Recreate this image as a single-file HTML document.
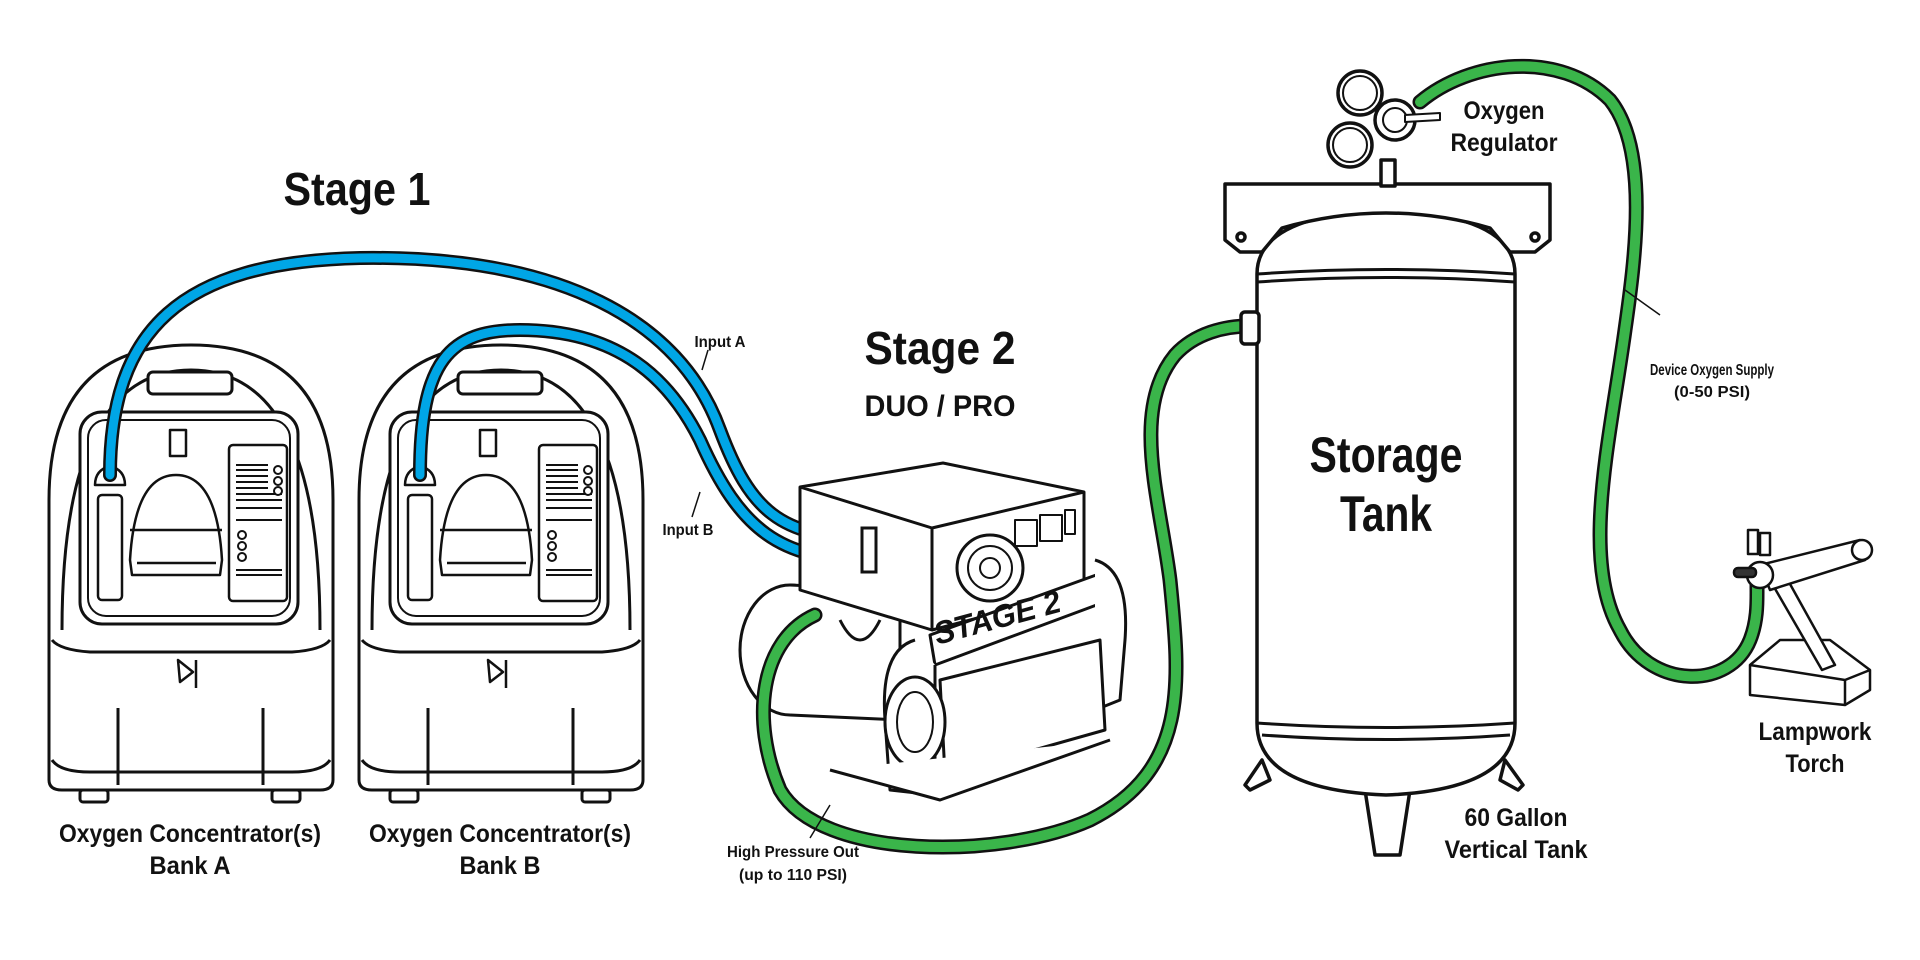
<!DOCTYPE html>
<html><head><meta charset="utf-8"><style>
html,body{margin:0;padding:0;background:#fff;}
svg{display:block}
text{font-family:"Liberation Sans Narrow","Liberation Sans",sans-serif;font-weight:bold;fill:#111;text-anchor:middle}
</style></head><body>
<svg width="1920" height="960" viewBox="0 0 1920 960" xmlns="http://www.w3.org/2000/svg">
<defs>
<g id="conc" fill="#fff" stroke="#111" stroke-width="3" stroke-linejoin="round">
  <path d="M49 780 L49 500 Q49 345 191 345 Q333 345 333 500 L333 780 Q333 790 320 790 L62 790 Q49 790 49 780Z"/>
  <path d="M62 630 Q62 370 191 370 Q320 370 320 630" fill="none"/>
  <rect x="148" y="372" width="84" height="22" rx="5"/>
  <rect x="80" y="412" width="218" height="212" rx="22"/>
  <rect x="88" y="420" width="202" height="196" rx="18" fill="none" stroke-width="2"/>
  <path d="M52 640 Q60 650 90 652 L292 652 Q322 650 330 640" fill="none"/>
  <rect x="170" y="430" width="16" height="26" stroke-width="2.5"/>
  <path d="M130 560 Q135 475 176 475 Q217 475 222 560 L220 575 L132 575Z" stroke-width="2.5"/>
  <path d="M130 530 L222 530 M137 563 L216 563" stroke-width="2.5"/>
  <rect x="98" y="495" width="24" height="105" rx="4" stroke-width="2.5"/>
  <rect x="229" y="445" width="58" height="156" rx="4" stroke-width="2.5"/>
  <path d="M236 465 L268 465 M236 470 L268 470 M236 476 L268 476 M236 482 L268 482 M236 488 L268 488 M236 494 L282 494 M236 500 L282 500 M236 508 L282 508 M236 520 L282 520 M236 570 L282 570 M236 575 L282 575" stroke-width="2"/>
  <circle cx="278" cy="470" r="4" stroke-width="2"/><circle cx="278" cy="481" r="4" stroke-width="2"/><circle cx="278" cy="491" r="4" stroke-width="2"/>
  <circle cx="242" cy="535" r="4" stroke-width="2"/><circle cx="242" cy="546" r="4" stroke-width="2"/><circle cx="242" cy="557" r="4" stroke-width="2"/>
  <path d="M95 485 Q95 470 110 466 Q125 470 125 485Z" stroke-width="2.5"/>
  <path d="M178 660 L193 672 L180 682 Z M196 660 L196 688" stroke-width="2.5" fill="none"/>
  <path d="M52 760 Q60 772 90 772 L292 772 Q322 772 330 760" fill="none"/>
  <path d="M118 708 L118 785 M263 708 L263 785"/>
  <rect x="80" y="790" width="28" height="12" rx="3"/><rect x="272" y="790" width="28" height="12" rx="3"/>
</g>
</defs>

<use href="#conc"/>
<use href="#conc" x="310"/>

<g fill="none" stroke-linecap="round">
  <path d="M110 475 C110 330 180 262 360 258 C560 255 680 320 720 430 C750 510 780 538 868 538" stroke="#111" stroke-width="14"/>
  <path d="M110 475 C110 330 180 262 360 258 C560 255 680 320 720 430 C750 510 780 538 868 538" stroke="#00a6e6" stroke-width="9"/>
  <path d="M420 475 C420 360 450 330 520 330 C620 330 670 380 700 440 C740 530 780 560 868 560" stroke="#111" stroke-width="14"/>
  <path d="M420 475 C420 360 450 330 520 330 C620 330 670 380 700 440 C740 530 780 560 868 560" stroke="#00a6e6" stroke-width="9"/>
</g>

<g fill="#fff" stroke="#111" stroke-width="3" stroke-linejoin="round">
  <ellipse cx="790" cy="650" rx="50" ry="65"/>
  <path d="M790 585 L900 590 L900 720 L790 715"/>
  <path d="M800 487 L943 463 L1084 492 L1084 590 L932 630 L800 590Z"/>
  <path d="M800 487 L932 528 L1084 492 M932 528 L932 630"/>
  <circle cx="990" cy="568" r="33"/><circle cx="990" cy="568" r="22" stroke-width="2"/><circle cx="990" cy="568" r="10" stroke-width="2"/>
  <rect x="1015" y="520" width="22" height="26" stroke-width="2"/><rect x="1040" y="515" width="22" height="26" stroke-width="2"/><rect x="1065" y="510" width="10" height="24" stroke-width="2"/>
  <path d="M930 635 L1110 570 L1110 600 L935 665Z"/>
  <path d="M915 640 Q880 650 885 720 L890 790 L935 795 L935 665"/>
  <path d="M1095 560 Q1130 570 1125 640 L1120 700 L1095 710"/>
  <path d="M940 680 L1100 640 L1105 730 L945 775Z"/>
  <ellipse cx="915" cy="722" rx="30" ry="45"/>
  <ellipse cx="915" cy="722" rx="18" ry="30" stroke-width="2"/>
  <path d="M830 770 L940 800 L1110 740"/>
  <path d="M840 620 Q860 660 880 620" fill="none"/>
</g>
<text x="1000" y="628" font-size="32" transform="rotate(-15 1000 628)" font-style="italic" textLength="130" lengthAdjust="spacingAndGlyphs">STAGE 2</text>
<rect x="862" y="528" width="14" height="44" fill="#fff" stroke="#111" stroke-width="3"/>

<g fill="none" stroke-linecap="round">
  <path d="M815 615 C760 640 750 720 780 790 C820 860 1000 860 1090 820 C1190 770 1180 680 1170 580 C1160 500 1130 410 1175 355 C1195 333 1225 326 1250 326" stroke="#111" stroke-width="15"/>
  <path d="M815 615 C760 640 750 720 780 790 C820 860 1000 860 1090 820 C1190 770 1180 680 1170 580 C1160 500 1130 410 1175 355 C1195 333 1225 326 1250 326" stroke="#3ab54a" stroke-width="10"/>
</g>

<g fill="#fff" stroke="#111" stroke-width="3.5" stroke-linejoin="round">
  <path d="M1270 780 L1250 790 L1245 785 L1262 760Z"/>
  <path d="M1500 780 L1518 790 L1523 785 L1505 760Z"/>
  <path d="M1365 790 L1375 855 L1400 855 L1410 790Z"/>
  <path d="M1257 274 Q1257 215 1386 210 Q1515 215 1515 274 L1515 723 Q1515 790 1386 795 Q1257 790 1257 723Z"/>
  <path d="M1257 274 Q1386 265 1515 274 M1257 282 Q1386 273 1515 282 M1257 723 Q1386 732 1515 723 M1262 735 Q1386 744 1510 735" fill="none" stroke-width="3"/>
  <path d="M1225 184 L1550 184 L1550 240 L1535 252 L1510 252 L1490 228 Q1386 198 1282 228 L1262 252 L1240 252 L1225 240Z"/>
  <circle cx="1241" cy="237" r="4"/><circle cx="1535" cy="237" r="4"/>
  <rect x="1241" y="312" width="18" height="32" rx="4"/>
  <rect x="1381" y="160" width="14" height="26"/>
  <circle cx="1360" cy="93" r="22"/><circle cx="1360" cy="93" r="17" stroke-width="2"/>
  <circle cx="1350" cy="145" r="22"/><circle cx="1350" cy="145" r="17" stroke-width="2"/>
  <circle cx="1395" cy="120" r="20"/><circle cx="1395" cy="120" r="12" stroke-width="2"/>
  <path d="M1405 115 L1440 113 L1440 120 L1405 122Z" stroke-width="2"/>
</g>

<g fill="none" stroke-linecap="round">
  <path d="M1420 102 C1470 60 1560 50 1610 100 C1650 150 1635 260 1625 330 C1610 440 1580 560 1620 630 C1650 690 1730 690 1750 640 C1758 620 1757 600 1757 585" stroke="#111" stroke-width="15"/>
  <path d="M1420 102 C1470 60 1560 50 1610 100 C1650 150 1635 260 1625 330 C1610 440 1580 560 1620 630 C1650 690 1730 690 1750 640 C1758 620 1757 600 1757 585" stroke="#3ab54a" stroke-width="10"/>
</g>

<g fill="#fff" stroke="#111" stroke-width="2.5" stroke-linejoin="round">
  <path d="M1750 665 L1780 640 L1830 640 L1870 670 L1870 690 L1845 705 L1750 695Z"/>
  <path d="M1750 665 L1845 680 L1870 670 M1845 680 L1845 705" fill="none"/>
  <path d="M1770 580 L1785 575 L1835 665 L1822 670Z"/>
  <path d="M1760 565 L1860 540 L1865 560 L1770 590Z"/>
  <circle cx="1862" cy="550" r="10"/>
  <circle cx="1760" cy="575" r="13"/>
  <rect x="1734" y="568" width="22" height="9" rx="4" fill="#333"/>
  <rect x="1748" y="530" width="10" height="24"/><rect x="1760" y="533" width="10" height="22"/>
</g>

<g stroke="#111" stroke-width="1.5" fill="none">
  <path d="M708 350 L702 370"/>
  <path d="M692 517 L700 492"/>
  <path d="M810 838 L830 805"/>
  <path d="M1625 290 L1660 315"/>
</g>

<g lengthAdjust="spacingAndGlyphs">
<text x="357" y="205" font-size="46" textLength="147" lengthAdjust="spacingAndGlyphs">Stage 1</text>
<text x="940" y="364" font-size="46" textLength="151" lengthAdjust="spacingAndGlyphs">Stage 2</text>
<text x="940" y="416" font-size="30" textLength="151" lengthAdjust="spacingAndGlyphs">DUO / PRO</text>
<text x="1386" y="472" font-size="50" textLength="153" lengthAdjust="spacingAndGlyphs">Storage</text>
<text x="1386" y="531" font-size="50" textLength="92" lengthAdjust="spacingAndGlyphs">Tank</text>
<text x="1504" y="119" font-size="25" textLength="81" lengthAdjust="spacingAndGlyphs">Oxygen</text>
<text x="1504" y="151" font-size="25" textLength="107" lengthAdjust="spacingAndGlyphs">Regulator</text>
<text x="1712" y="375" font-size="16" textLength="124" lengthAdjust="spacingAndGlyphs">Device Oxygen Supply</text>
<text x="1712" y="397" font-size="16" textLength="76" lengthAdjust="spacingAndGlyphs">(0-50 PSI)</text>
<text x="1815" y="740" font-size="25" textLength="113" lengthAdjust="spacingAndGlyphs">Lampwork</text>
<text x="1815" y="772" font-size="25" textLength="59" lengthAdjust="spacingAndGlyphs">Torch</text>
<text x="1516" y="826" font-size="25" textLength="103" lengthAdjust="spacingAndGlyphs">60 Gallon</text>
<text x="1516" y="858" font-size="25" textLength="143" lengthAdjust="spacingAndGlyphs">Vertical Tank</text>
<text x="720" y="347" font-size="16" textLength="51" lengthAdjust="spacingAndGlyphs">Input A</text>
<text x="688" y="535" font-size="16" textLength="51" lengthAdjust="spacingAndGlyphs">Input B</text>
<text x="793" y="857" font-size="16" textLength="132" lengthAdjust="spacingAndGlyphs">High Pressure Out</text>
<text x="793" y="880" font-size="16" textLength="108" lengthAdjust="spacingAndGlyphs">(up to 110 PSI)</text>
<text x="190" y="842" font-size="25" textLength="262" lengthAdjust="spacingAndGlyphs">Oxygen Concentrator(s)</text>
<text x="190" y="874" font-size="25" textLength="81" lengthAdjust="spacingAndGlyphs">Bank A</text>
<text x="500" y="842" font-size="25" textLength="262" lengthAdjust="spacingAndGlyphs">Oxygen Concentrator(s)</text>
<text x="500" y="874" font-size="25" textLength="81" lengthAdjust="spacingAndGlyphs">Bank B</text>
</g>
</svg>
</body></html>
